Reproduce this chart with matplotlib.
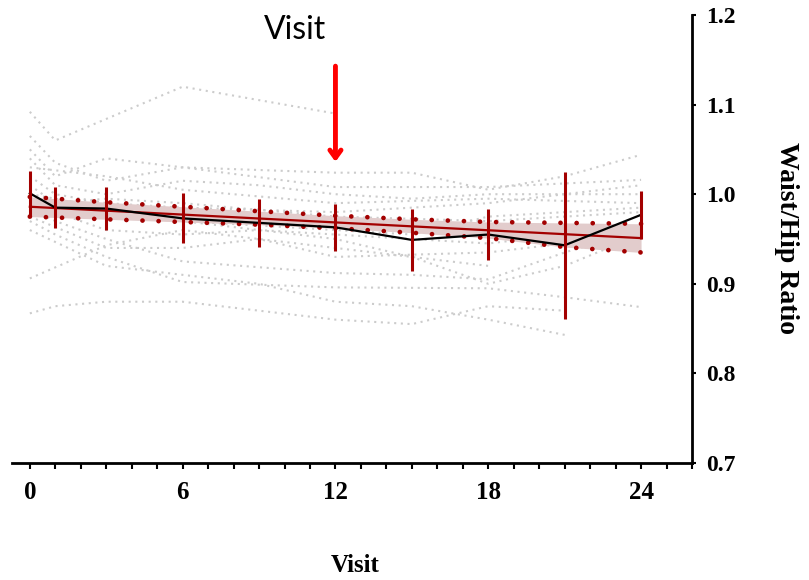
import matplotlib
matplotlib.use("Agg")
import matplotlib.pyplot as plt
from matplotlib.ticker import MultipleLocator

# mean waist/hip ratio by visit with +/- SD bars
visits = [0, 1, 3, 6, 9, 12, 15, 18, 21, 24]
mean_ratio = [1.001, 0.985, 0.984, 0.973, 0.968, 0.963, 0.949, 0.955, 0.943, 0.977]
sd_ratio = [0.025, 0.023, 0.024, 0.028, 0.027, 0.026, 0.035, 0.028, 0.082, 0.027]

# linear fit and its confidence band
fit_x = [0, 24]
fit_y = [0.986, 0.951]
band_x = [0, 3, 6, 9, 12, 15, 18, 21, 24]
band_lo = [0.975, 0.972, 0.969, 0.966, 0.962, 0.957, 0.951, 0.941, 0.935]
band_hi = [0.997, 0.991, 0.986, 0.981, 0.976, 0.972, 0.969, 0.968, 0.967]

# individual subjects (visit, value)
subjects = [
    ([0, 1, 6, 12], [1.092, 1.06, 1.12, 1.09]),
    ([0, 1, 3, 6, 12, 15, 18, 21, 24], [1.065, 1.035, 1.015, 1.03, 1.024, 1.024, 1.005, 1.02, 1.044]),
    ([0, 1, 3, 6, 12, 18, 24], [1.05, 1.02, 1.04, 1.03, 1.008, 1.008, 1.016]),
    ([0, 1, 3, 6, 9, 12, 15, 18, 21, 24], [1.04, 1.01, 1.0, 1.015, 1.01, 1.0, 0.995, 1.0, 1.0, 1.0]),
    ([0, 3, 6, 12, 18, 24], [1.03, 1.02, 1.005, 0.99, 0.995, 0.99]),
    ([0, 1, 3, 6, 12, 18, 21, 24], [1.02, 1.0, 0.99, 0.985, 0.98, 0.99, 1.0, 1.01]),
    ([0, 1, 3, 6, 12, 15, 18, 24], [1.0, 0.985, 0.975, 0.97, 0.96, 0.955, 0.975, 0.985]),
    ([0, 3, 6, 9, 12, 18, 21], [0.99, 0.96, 0.955, 0.96, 0.955, 0.945, 0.955]),
    ([0, 1, 3, 6, 12, 15, 18, 21, 24], [0.985, 0.97, 0.95, 0.925, 0.912, 0.91, 0.905, 0.935, 0.96]),
    ([0, 3, 6, 9, 12, 18, 21], [0.975, 0.94, 0.94, 0.95, 0.93, 0.935, 0.945]),
    ([0, 1, 3, 6, 12, 18, 21, 24], [0.97, 0.955, 0.93, 0.902, 0.896, 0.895, 0.885, 0.874]),
    ([0, 3, 6, 12, 18], [0.906, 0.943, 0.96, 0.94, 0.92]),
    ([0, 1, 3, 6, 12, 15, 18, 21], [0.867, 0.875, 0.88, 0.88, 0.86, 0.855, 0.875, 0.87]),
    ([0, 3, 6, 9, 12, 15, 18, 21], [0.96, 0.92, 0.91, 0.9, 0.88, 0.875, 0.86, 0.843]),
    ([0, 3, 6, 12, 15, 18, 21, 24], [1.0, 0.985, 0.97, 0.95, 0.93, 0.9, 0.92, 0.955]),
    ([0, 1, 3, 6, 12, 18, 24], [1.01, 0.99, 0.995, 0.99, 0.975, 0.97, 0.98]),
]

red = "#a30000"
serif = ["Liberation Serif", "DejaVu Serif"]

fig = plt.figure(figsize=(8.09, 5.8), dpi=100)
ax = fig.add_axes([12 / 809, 117 / 580, 680 / 809, 448 / 580])

for sx, sy in subjects:
    ax.plot(sx, sy, color="#cccccc", lw=1.5, linestyle=(0, (1, 2.2)), zorder=1)

ax.fill_between(band_x, band_lo, band_hi, color="#e2cccc", lw=0, zorder=2)
ax.plot(band_x, band_lo, color=red, lw=3.4, linestyle=(0, (0.01, 3.4)),
        dash_capstyle="round", zorder=3)
ax.plot(band_x, band_hi, color=red, lw=3.4, linestyle=(0, (0.01, 3.4)),
        dash_capstyle="round", zorder=3)
ax.plot(fit_x, fit_y, color=red, lw=1.6, zorder=4)
ax.plot(visits, mean_ratio, color="black", lw=1.6, zorder=5)
ax.errorbar(visits, mean_ratio, yerr=sd_ratio, fmt="none", ecolor=red,
            elinewidth=2.2, capsize=0, zorder=6)

ax.annotate("", xy=(12, 1.033), xytext=(12, 1.146),
            arrowprops=dict(arrowstyle="->,head_length=0.55,head_width=0.4",
                            color="red", lw=3.5))

ax.set_xlim(-0.7, 26)
ax.set_ylim(0.7, 1.2)
ax.spines["left"].set_visible(False)
ax.spines["top"].set_visible(False)
ax.spines["right"].set_linewidth(2)
ax.spines["bottom"].set_linewidth(2)
ax.yaxis.tick_right()
ax.set_yticks([0.7, 0.8, 0.9, 1.0, 1.1, 1.2])
ax.set_yticklabels(["0.7", "0.8", "0.9", "1.0", "1.1", "1.2"])
ax.set_xticks([0, 6, 12, 18, 24])
ax.xaxis.set_minor_locator(MultipleLocator(1))
ax.tick_params(axis="x", which="both", direction="out", length=4, width=1.5, pad=9)
ax.tick_params(axis="y", direction="out", length=3, width=1.5, pad=7)
for lab in ax.get_xticklabels():
    lab.set_fontfamily(serif)
    lab.set_fontweight("bold")
    lab.set_fontsize(18)
for lab in ax.get_yticklabels():
    lab.set_fontfamily(serif)
    lab.set_fontweight("bold")
    lab.set_fontsize(17)

fig.text(787 / 809, 1 - 238 / 580, "Waist/Hip Ratio", rotation=270, ha="center", va="center",
         fontsize=20, fontweight="bold", family=serif)
fig.text(355 / 809, 1 - 565 / 580, "Visit", ha="center", va="center",
         fontsize=18, fontweight="bold", family=serif)
fig.text(295 / 809, 1 - 30 / 580, "Visit", ha="center", va="center",
         fontsize=23, family=["Lato", "DejaVu Sans"])

fig.savefig("out.png", dpi=100)
